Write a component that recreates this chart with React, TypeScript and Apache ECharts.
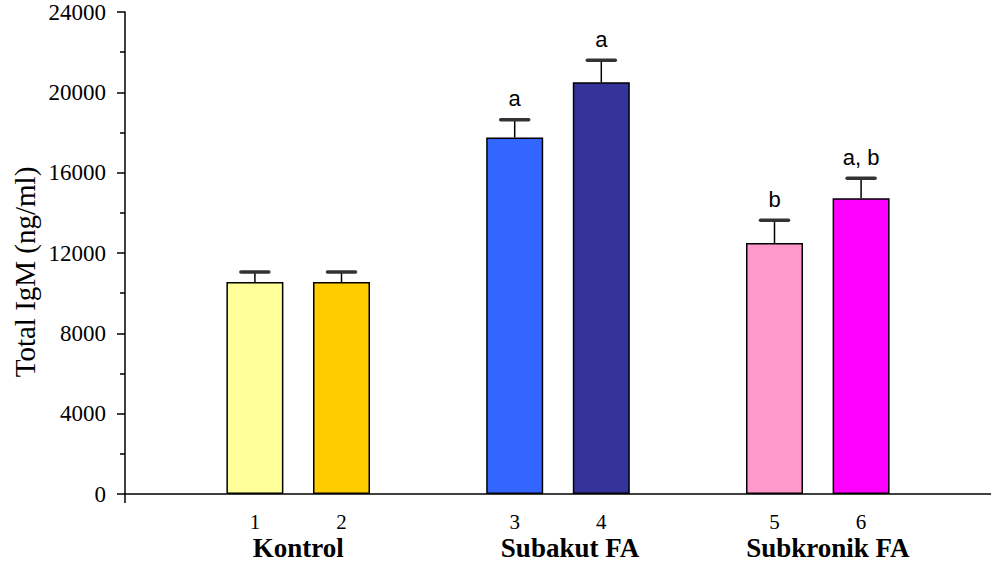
import React, { useEffect, useRef } from "react";
import * as echarts from "echarts";

const categories = ["", "1", "2", "", "3", "4", "", "5", "6", ""];
const means = [null, 10550, 10550, null, 17750, 20500, null, 12500, 14720, null];
const errors = [null, 500, 500, null, 880, 1100, null, 1130, 1000, null];
const sigLabels = [null, "", "", null, "a", "a", null, "b", "a, b", null];
const barColors = [null, "#FFFF99", "#FFCC00", null, "#3366FF", "#333399", null, "#FF99CC", "#FF00FF", null];
const groupNames = ["Kontrol", "Subakut FA", "Subkronik FA"];
const groupFirstSlot = [1, 4, 7];
const groupLastSlot = [2, 5, 8];
const groupDx = [0, 12, 10];
const yMin = 0;
const yMax = 24000;
const yInterval = 4000;

const serif = "'Times New Roman', 'Liberation Serif', serif";
const sans = "Arial, 'Liberation Sans', sans-serif";

export default function App() {
  const ref = useRef<HTMLDivElement>(null);
  useEffect(() => {
    if (!ref.current) return;
    const chart = echarts.init(ref.current, undefined, { renderer: "svg" });

    const barData = means.map((v, i) =>
      v == null
        ? null
        : {
            value: v,
            itemStyle: { color: barColors[i], borderColor: "#000", borderWidth: 1.5 },
          }
    );
    const errData: any[] = [];
    means.forEach((v, i) => {
      if (v != null) errData.push([i, v, errors[i], sigLabels[i]]);
    });
    const groupData = groupNames.map((n, i) => [groupFirstSlot[i], groupLastSlot[i], n, groupDx[i]]);

    chart.setOption({
      animation: false,
      grid: { left: 125, right: 0, top: 12, bottom: 73, containLabel: false },
      xAxis: {
        type: "category",
        data: categories,
        axisLine: { lineStyle: { color: "#000", width: 1.5 } },
        axisTick: { show: false },
        axisLabel: { color: "#000", fontFamily: serif, fontSize: 21, margin: 17, interval: 0 },
      },
      yAxis: {
        type: "value",
        min: yMin,
        max: yMax,
        interval: yInterval,
        splitLine: { show: false },
        axisLine: { show: true, lineStyle: { color: "#000", width: 1.5 } },
        axisTick: { show: true, length: 8, lineStyle: { color: "#000", width: 1.5 } },
        minorTick: { show: true, splitNumber: 2, length: 5, lineStyle: { color: "#000", width: 1.5 } },
        axisLabel: {
          color: "#000",
          fontFamily: serif,
          fontSize: 23,
          margin: 19,
          formatter: (v: number) => String(v),
        },
      },
      graphic: [
        {
          type: "text",
          x: 25,
          y: 272,
          rotation: Math.PI / 2,
          style: {
            text: "Total IgM (ng/ml)",
            fontFamily: serif,
            fontSize: 29,
            fill: "#000",
            align: "center",
            verticalAlign: "middle",
          },
        },
        {
          type: "line",
          shape: { x1: 125, y1: 494, x2: 125, y2: 503 },
          style: { stroke: "#000", lineWidth: 1.5 },
        },
      ],
      series: [
        {
          type: "bar",
          data: barData,
          barWidth: 57,
          barGap: "-100%",
        },
        {
          type: "custom",
          data: errData,
          encode: { x: 0, y: 1 },
          z: 5,
          renderItem: (params: any, api: any) => {
            const x = api.value(0);
            const v = api.value(1);
            const e = api.value(2);
            const lab = errData[params.dataIndex][3];
            const p0 = api.coord([x, v]);
            const p1 = api.coord([x, v + e]);
            const children: any[] = [
              {
                type: "line",
                shape: { x1: p0[0], y1: p0[1], x2: p1[0], y2: p1[1] },
                style: { stroke: "#000", lineWidth: 1.5 },
              },
              {
                type: "line",
                shape: { x1: p1[0] - 14, y1: p1[1], x2: p1[0] + 14, y2: p1[1] },
                style: { stroke: "#333", lineWidth: 3.5, lineCap: "round" },
              },
            ];
            if (lab) {
              children.push({
                type: "text",
                x: p1[0],
                y: p1[1] - 21,
                style: {
                  text: lab,
                  fontFamily: sans,
                  fontSize: 22,
                  fill: "#000",
                  align: "center",
                  verticalAlign: "middle",
                },
              });
            }
            return { type: "group", children };
          },
        },
        {
          type: "custom",
          data: groupData,
          encode: { x: 0 },
          clip: false,
          silent: true,
          renderItem: (params: any, api: any) => {
            const d = groupData[params.dataIndex];
            const a = api.coord([d[0], 0]);
            const b = api.coord([d[1], 0]);
            return {
              type: "text",
              x: (a[0] + b[0]) / 2 + (d[3] as number),
              y: a[1] + 54,
              style: {
                text: d[2],
                fontFamily: serif,
                fontWeight: "bold",
                fontSize: 27,
                fill: "#000",
                align: "center",
                verticalAlign: "middle",
              },
            };
          },
        },
      ],
    });
    return () => chart.dispose();
  }, []);
  return (
    <div
      ref={ref}
      style={{ position: "fixed", left: 0, top: 0, width: 991, height: 567, background: "#fff" }}
    />
  );
}
